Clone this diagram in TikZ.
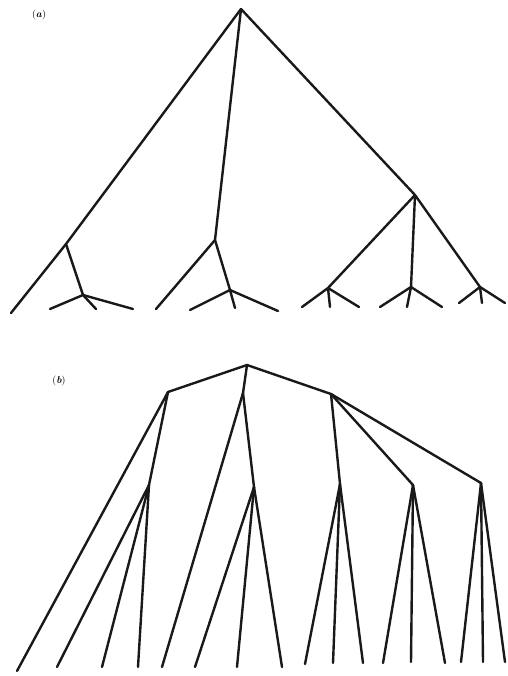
\documentclass[tikz,border=0pt]{standalone}
\tikzset{
  branch/.style={line width=2.4pt, line cap=round, line join=round, black!90},
  panellabel/.style={font=\normalsize, inner sep=0pt}
}
\begin{document}
\begin{tikzpicture}[x=1pt,y=-1pt]
\useasboundingbox (0,0) rectangle (507,676);
% ---------- (a) ----------
\node[panellabel] (la) at (39,15) {(\textbf{\textit{a}})};
\coordinate (R) at (241,9);
\coordinate (A1) at (66,244);
\coordinate (A2) at (215,240);
\coordinate (A3) at (415,195);
\coordinate (L1) at (11,313);
\coordinate (B1) at (83,295);
\coordinate (B1a) at (50,309);
\coordinate (B1b) at (96,309);
\coordinate (B1c) at (133,309);
\coordinate (L2) at (156,309);
\coordinate (B2) at (230,290);
\coordinate (B2a) at (190,310);
\coordinate (B2b) at (235,308);
\coordinate (B2c) at (278,311);
\coordinate (B3) at (328,288);
\coordinate (B3a) at (302,307);
\coordinate (B3b) at (330,307);
\coordinate (B3c) at (359,307);
\coordinate (B4) at (411,287);
\coordinate (B4a) at (380,307);
\coordinate (B4b) at (407,307);
\coordinate (B4c) at (442,307);
\coordinate (B5) at (480,287);
\coordinate (B5a) at (459,303);
\coordinate (B5b) at (482,303);
\coordinate (B5c) at (505,303);
\draw[branch] (R) -- (A1) -- (L1);
\draw[branch] (R) -- (A2) -- (L2);
\draw[branch] (R) -- (A3);
\draw[branch] (A1) -- (B1);
\draw[branch] (A2) -- (B2);
\draw[branch] (A3) -- (B3);
\draw[branch] (A3) -- (B4);
\draw[branch] (A3) -- (B5);
\foreach \b in {B1,B2,B3,B4,B5}{
  \draw[branch] (\b) -- (\b a);
  \draw[branch] (\b) -- (\b b);
  \draw[branch] (\b) -- (\b c);
}
% ---------- (b) ----------
\node[panellabel] (lb) at (59,381) {(\textbf{\textit{b}})};
\coordinate (S) at (247,365);
\coordinate (C1) at (168,392);
\coordinate (C2) at (243,393);
\coordinate (C3) at (331,394);
\coordinate (M1) at (17,671);
\coordinate (M2) at (162,667);
\coordinate (D1) at (149,485);
\coordinate (D1a) at (57,667);
\coordinate (D1b) at (102,667);
\coordinate (D1c) at (138,667);
\coordinate (D2) at (254,487);
\coordinate (D2a) at (195,667);
\coordinate (D2b) at (237,667);
\coordinate (D2c) at (282,667);
\coordinate (D3) at (340,484);
\coordinate (D3a) at (305,664);
\coordinate (D3b) at (333,663);
\coordinate (D3c) at (363,663);
\coordinate (D4) at (413,485);
\coordinate (D4a) at (383,663);
\coordinate (D4b) at (411,662);
\coordinate (D4c) at (445,663);
\coordinate (D5) at (481,483);
\coordinate (D5a) at (461,662);
\coordinate (D5b) at (483,662);
\coordinate (D5c) at (505,662);
\draw[branch] (C1) -- (S) -- (C3);
\draw[branch] (S) -- (C2);
\draw[branch] (C1) -- (M1);
\draw[branch] (C1) -- (D1);
\draw[branch] (C2) -- (M2);
\draw[branch] (C2) -- (D2);
\draw[branch] (C3) -- (D3);
\draw[branch] (C3) -- (D4);
\draw[branch] (C3) -- (D5);
\foreach \d in {D1,D2,D3,D4,D5}{
  \draw[branch] (\d) -- (\d a);
  \draw[branch] (\d) -- (\d b);
  \draw[branch] (\d) -- (\d c);
}
\end{tikzpicture}
\end{document}
